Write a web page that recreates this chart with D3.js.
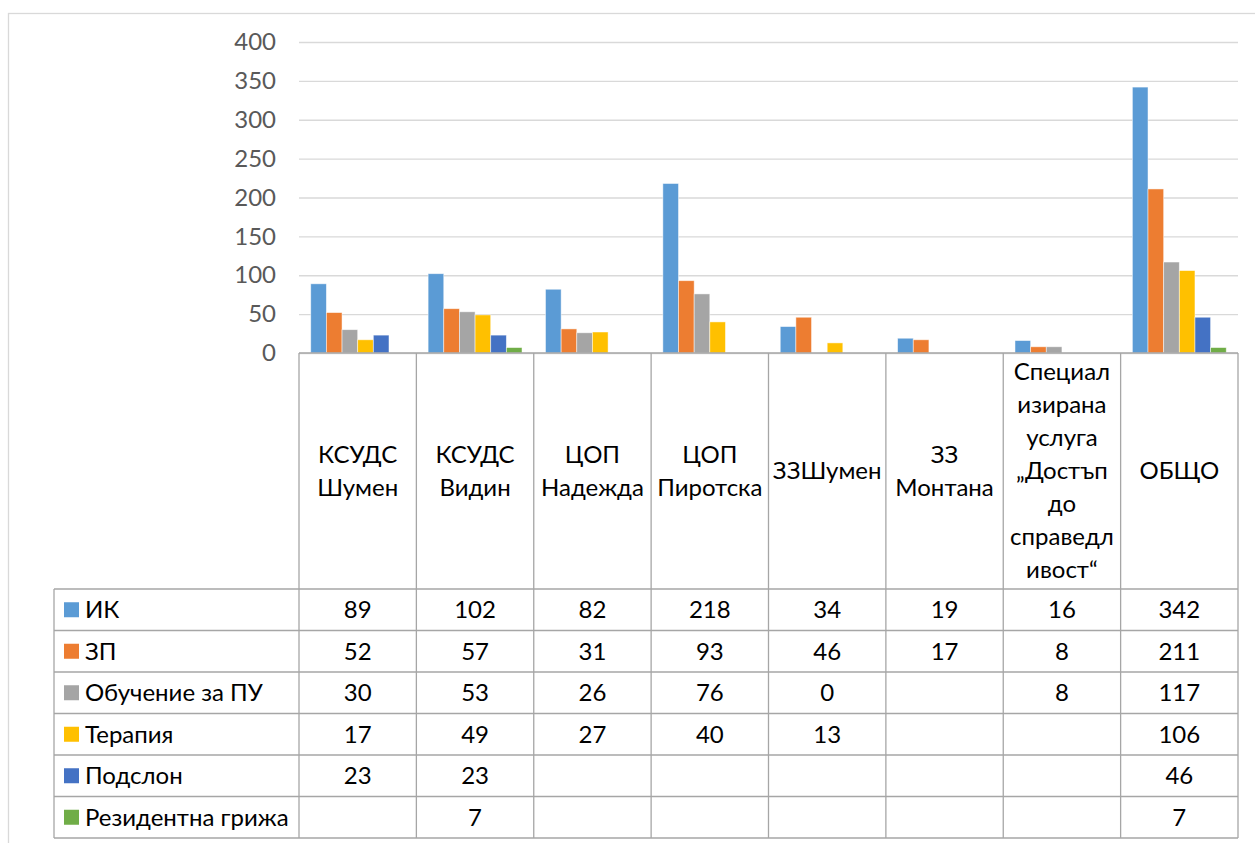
<!doctype html>
<html>
<head>
    <meta charset="utf-8">
    <script src="https://cdn.jsdelivr.net/npm/d3@7"></script>
    <style>
        body { margin: 0; background: #fff; }
        svg text { font-family: Lato, "Liberation Sans", sans-serif; }
    </style>
</head>
<body>
    <div id="chart"></div>
    <script>
        var w = 1255;
        var h = 843;

        // category labels, split into lines as they wrap in the table header
        var categories = [
            ["КСУДС", "Шумен"],
            ["КСУДС", "Видин"],
            ["ЦОП", "Надежда"],
            ["ЦОП", "Пиротска"],
            ["ЗЗШумен"],
            ["ЗЗ", "Монтана"],
            ["Специал", "изирана", "услуга", "„Достъп", "до", "справедл", "ивост“"],
            ["ОБЩО"]
        ];
        var seriesNames = ["ИК", "ЗП", "Обучение за ПУ", "Терапия", "Подслон", "Резидентна грижа"];
        var colors = ["#5B9BD5", "#ED7D31", "#A5A5A5", "#FFC000", "#4472C4", "#70AD47"];

        var ik = [89, 102, 82, 218, 34, 19, 16, 342];
        var zp = [52, 57, 31, 93, 46, 17, 8, 211];
        var obuchenie = [30, 53, 26, 76, 0, null, 8, 117];
        var terapia = [17, 49, 27, 40, 13, null, null, 106];
        var podslon = [23, 23, null, null, null, null, null, 46];
        var rezidentna = [null, 7, null, null, null, null, null, 7];
        var values = [ik, zp, obuchenie, terapia, podslon, rezidentna];

        var yTicks = [0, 50, 100, 150, 200, 250, 300, 350, 400];

        var plotLeft = 299, plotRight = 1238;
        var plotTop = 42, zero = 353;
        var headerBottom = 589, rowH = 41.5;
        var tableLeft = 54;
        var fontSize = 24;
        var lineColor = "#A6A6A6";

        var catIdx = d3.range(categories.length);

        var x0 = d3.scaleBand()
            .domain(catIdx)
            .range([plotLeft, plotRight]);

        var barW = x0.bandwidth() / 7.5; // gap width 150%
        var x1 = d3.scaleBand()
            .domain(d3.range(seriesNames.length))
            .range([barW * 0.75, x0.bandwidth() - barW * 0.75]);

        var y = d3.scaleLinear()
            .domain([0, 400])
            .range([zero, plotTop]);

        var svg = d3.select("#chart")
            .append("svg")
            .attr("width", w)
            .attr("height", h);

        // chart area border
        svg.append("rect")
            .attr("x", 8.5).attr("y", 13.5)
            .attr("width", 1270).attr("height", 850)
            .attr("fill", "none")
            .attr("stroke", "#D9D9D9")
            .attr("stroke-width", 1.3);

        // gridlines + tick labels via axis
        var yAxis = d3.axisLeft(y)
            .tickValues(yTicks)
            .tickSize(-(plotRight - plotLeft))
            .tickPadding(23);

        var gy = svg.append("g")
            .attr("transform", "translate(" + plotLeft + ",0)")
            .call(yAxis);
        gy.select(".domain").remove();
        gy.selectAll(".tick line")
            .attr("stroke", "#D9D9D9")
            .attr("stroke-width", 1.3);
        gy.selectAll(".tick text")
            .attr("fill", "#595959")
            .style("font-size", fontSize + "px");

        // bars
        var groups = svg.append("g").selectAll("g")
            .data(values)
            .enter()
            .append("g")
            .attr("fill", function (d, i) { return colors[i]; });

        groups.each(function (vals, si) {
            d3.select(this).selectAll("rect")
                .data(vals.map(function (v, ci) { return { v: v, ci: ci }; })
                    .filter(function (d) { return d.v; }))
                .enter()
                .append("rect")
                .attr("x", function (d) { return x0(d.ci) + x1(si); })
                .attr("y", function (d) { return y(d.v); })
                .attr("width", x1.bandwidth())
                .attr("height", function (d) { return zero - y(d.v); })
                .attr("stroke", "#fff")
                .attr("stroke-opacity", 0.6)
                .attr("stroke-width", 0.8);
        });

        // data table
        var table = svg.append("g");
        var bottom = headerBottom + rowH * seriesNames.length;

        // horizontal lines
        table.append("line")
            .attr("x1", plotLeft).attr("x2", plotRight)
            .attr("y1", zero).attr("y2", zero);
        d3.range(seriesNames.length + 1).forEach(function (r) {
            table.append("line")
                .attr("x1", tableLeft).attr("x2", plotRight)
                .attr("y1", headerBottom + r * rowH).attr("y2", headerBottom + r * rowH);
        });
        // vertical lines
        table.append("line")
            .attr("x1", tableLeft).attr("x2", tableLeft)
            .attr("y1", headerBottom).attr("y2", bottom);
        catIdx.concat([categories.length]).forEach(function (c) {
            var xx = c < categories.length ? x0(c) : plotRight;
            table.append("line")
                .attr("x1", xx).attr("x2", xx)
                .attr("y1", zero).attr("y2", bottom);
        });
        table.selectAll("line")
            .attr("stroke", lineColor)
            .attr("stroke-width", 1.3);

        // header labels
        var lineH = 33;
        var headerMid = (zero + headerBottom) / 2;
        catIdx.forEach(function (c) {
            var lines = categories[c];
            var t = table.append("text")
                .attr("text-anchor", "middle")
                .attr("fill", "#000")
                .style("font-size", fontSize + "px");
            lines.forEach(function (ln, i) {
                t.append("tspan")
                    .attr("x", x0(c) + x0.bandwidth() / 2)
                    .attr("y", headerMid + (i - (lines.length - 1) / 2) * lineH)
                    .attr("dy", "0.35em")
                    .text(ln);
            });
        });

        // rows: legend key, name, values
        seriesNames.forEach(function (name, si) {
            var cy = headerBottom + si * rowH + rowH / 2;
            table.append("rect")
                .attr("x", 64).attr("y", cy - 7.5)
                .attr("width", 15).attr("height", 15)
                .attr("fill", colors[si]);
            table.append("text")
                .attr("x", 85).attr("y", cy)
                .attr("dy", "0.35em")
                .attr("fill", "#000")
                .style("font-size", fontSize + "px")
                .text(name);
            values[si].forEach(function (v, ci) {
                if (v === null) return;
                table.append("text")
                    .attr("x", x0(ci) + x0.bandwidth() / 2)
                    .attr("y", cy)
                    .attr("dy", "0.35em")
                    .attr("text-anchor", "middle")
                    .attr("fill", "#000")
                    .style("font-size", fontSize + "px")
                    .text(v);
            });
        });
    </script>
</body>
</html>
